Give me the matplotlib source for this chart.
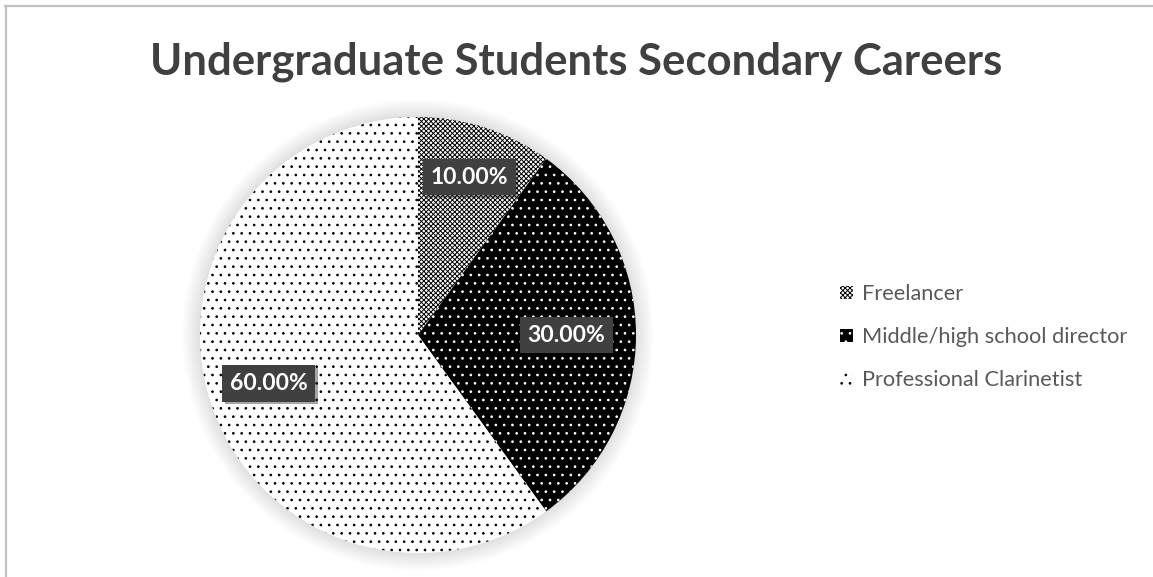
import numpy as np
import matplotlib
matplotlib.use("Agg")
import matplotlib.pyplot as plt
from matplotlib.lines import Line2D
from matplotlib.patches import Circle, Rectangle
import matplotlib.patheffects as pe

# Career shares of undergraduate clarinet students
categories = ["Freelancer", "Middle/high school director", "Professional Clarinetist"]
shares = [10.0, 30.0, 60.0]
pct_labels = ["10.00%", "30.00%", "60.00%"]
title = "Undergraduate Students Secondary Careers"

W, H, DPI = 1153, 577, 100
plt.rcParams["font.family"] = ["Lato", "DejaVu Sans"]
plt.rcParams["hatch.linewidth"] = 0.7

fig = plt.figure(figsize=(W / DPI, H / DPI), dpi=DPI)
fig.patch.set_facecolor("white")
renderer = fig.canvas.get_renderer()


def px(x, y):
    """pixel position (from top-left) -> figure fraction"""
    return x / W, 1 - y / H


def fit_size(txt, width_px, **kw):
    """font size that makes txt span width_px pixels"""
    t = fig.text(0, 0, txt, fontsize=20, **kw)
    w = t.get_window_extent(renderer).width
    t.remove()
    return 20 * width_px / w


# Pie axes laid out in pixels: centre and radius
cx, cy, R = 418, 335, 218
lim = 1.15
half = R * lim
ax = fig.add_axes([(cx - half) / W, (H - cy - half) / H, 2 * half / W, 2 * half / H])

# soft glow around the pie
for k in range(10):
    ax.add_patch(Circle((0, 0), 1.0 + 0.008 * (k + 1), color="black",
                        alpha=0.012, lw=0, zorder=0))

wedges, _ = ax.pie(shares, startangle=90, counterclock=False, radius=1.0,
                   center=(0, 0), frame=True)
ax.set_xlim(-lim, lim)
ax.set_ylim(-lim, lim)
ax.axis("off")

styles = [
    dict(facecolor="white", edgecolor="black", hatch="xxxxxxx"),
    dict(facecolor="black", edgecolor="white", hatch=".."),
    dict(facecolor="white", edgecolor="black", hatch=".."),
]
for w, st in zip(wedges, styles):
    w.set_facecolor(st["facecolor"])
    w.set_edgecolor(st["edgecolor"])
    w.set_hatch(st["hatch"])
    w.set_linewidth(0)
    w.set_zorder(2)

# percentage labels in dark boxes
label_fs = fit_size("10.00%", 78, fontweight="bold")
label_r = [0.76, 0.68, 0.72]
start = 90.0
total = sum(shares)
for v, txt, r in zip(shares, pct_labels, label_r):
    span = 360.0 * v / total
    mid = np.deg2rad(start - span / 2)
    start -= span
    t = ax.text(r * np.cos(mid), r * np.sin(mid), txt, ha="center", va="center",
                fontsize=label_fs, fontweight="bold", color="white", zorder=5,
                bbox=dict(boxstyle="square,pad=0.33", facecolor="#404040",
                          edgecolor="none"))
    t.get_bbox_patch().set_path_effects(
        [pe.SimplePatchShadow(offset=(2, -2), shadow_rgbFace="black", alpha=0.35),
         pe.Normal()])

# title
title_fs = fit_size(title, 852, fontweight="bold")
fig.text(*px(576, 74), title, ha="center", va="baseline",
         fontsize=title_fs, fontweight="bold", color="#404040")

# legend: hatched swatches and labels
leg_fs = fit_size(categories[1], 266)
row_y = [292, 335, 378]
sw = 13
for w, name, y in zip(wedges, categories, row_y):
    x0, y0 = px(840, y + sw / 2)
    fig.add_artist(Rectangle((x0, y0), sw / W, sw / H, transform=fig.transFigure,
                             facecolor=w.get_facecolor(), edgecolor=w.get_edgecolor(),
                             hatch=w.get_hatch(), lw=0))
    fig.text(*px(862, y), name, ha="left", va="center_baseline",
             fontsize=leg_fs, color="#595959")

# chart border
fig.add_artist(Line2D([5 / W, 1.0], [1 - 6 / H, 1 - 6 / H], color="#c0c0c0",
                      lw=1.6, transform=fig.transFigure))
fig.add_artist(Line2D([5.5 / W, 5.5 / W], [0, 1 - 6 / H], color="#c0c0c0",
                      lw=1.6, transform=fig.transFigure))

fig.savefig("out.png", dpi=DPI, facecolor="white")
